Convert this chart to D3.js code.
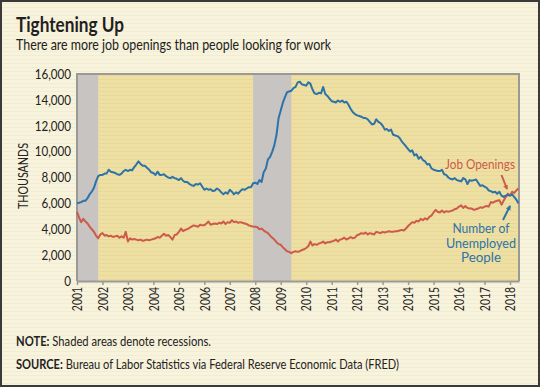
<!DOCTYPE html>
<html>
<head>
<meta charset="utf-8">
<script src="https://cdn.jsdelivr.net/npm/d3@7"></script>
<style>
  body { margin: 0; background: #fff; }
  svg { display: block; font-family: Lato, "Open Sans", sans-serif; }
</style>
</head>
<body>
<svg id="chart" width="540" height="387"></svg>
<script>
// Monthly values, thousands, Jan 2001 - May 2018
const firstMonth = new Date(2001, 0, 1);

const unemployed = [
  6.0, 6.05, 6.1, 6.2, 6.2, 6.4, 6.7, 6.9, 7.2, 7.7, 8.1, 8.2,
  8.2, 8.3, 8.3, 8.6, 8.45, 8.4, 8.35, 8.25, 8.2, 8.3, 8.5, 8.6,
  8.5, 8.6, 8.55, 8.8, 9.0, 9.25, 9.05, 8.9, 8.9, 8.75, 8.6, 8.4,
  8.35, 8.2, 8.45, 8.2, 8.2, 8.25, 8.1, 8.0, 7.95, 8.05, 7.95, 7.9,
  7.8, 7.95, 7.75, 7.65, 7.65, 7.5, 7.4, 7.35, 7.5, 7.45, 7.55, 7.3,
  7.05, 7.15, 7.05, 7.1, 6.95, 7.0, 7.15, 7.05, 6.85, 6.7, 6.85, 6.75,
  7.05, 6.9, 6.7, 6.85, 6.75, 6.95, 7.1, 7.05, 7.15, 7.25, 7.25, 7.55,
  7.6, 7.5, 7.8, 7.65, 8.4, 8.7, 9.4, 9.6, 10.0, 10.5, 11.3, 12.6,
  13.2, 13.8, 14.2, 14.6, 14.65, 14.7, 14.9, 15.0, 15.35, 15.4, 15.2, 15.15,
  15.1, 15.35, 15.25, 14.8, 14.5, 14.45, 14.55, 14.5, 15.0, 14.45, 14.3, 14.1,
  13.9, 13.85, 13.8, 13.95, 13.85, 13.95, 13.8, 13.85, 13.6, 13.3, 13.05, 12.9,
  12.8, 12.75, 12.7, 12.6, 12.6, 12.5, 12.3, 12.1, 12.15, 12.5, 12.3, 12.2,
  12.0, 11.7, 11.75, 11.6, 11.7, 11.3, 11.25, 11.2, 11.05, 10.8, 10.6, 10.4,
  10.2, 10.0, 10.1, 9.7, 9.8, 9.45, 9.6, 9.35, 9.25, 9.0, 9.05, 8.7,
  8.6, 8.55, 8.5, 8.5, 8.6, 8.25, 8.2, 8.0, 7.9, 7.85, 7.95, 7.8,
  7.75, 7.7, 7.95, 7.85, 7.5, 7.8, 7.75, 7.8, 7.85, 7.6, 7.35, 7.4,
  7.3, 7.2, 7.0, 6.95, 6.85, 6.9, 6.75, 6.9, 6.6, 6.5, 6.6, 6.65,
  6.6, 6.7, 6.5, 6.3, 6.0
];

const openings = [
  5.35, 4.9, 4.55, 4.8, 4.6, 4.45, 4.2, 4.0, 3.8, 3.5, 3.3, 3.6,
  3.7, 3.5, 3.55, 3.45, 3.5, 3.4, 3.45, 3.5, 3.35, 3.45, 3.35, 3.8,
  3.05, 3.3, 3.2, 3.25, 3.2, 3.15, 3.2, 3.1, 3.15, 3.2, 3.15, 3.2,
  3.25, 3.3, 3.4, 3.35, 3.5, 3.65, 3.5, 3.55, 3.4, 3.2, 3.55, 3.6,
  3.8, 4.05, 3.85, 3.95, 4.0, 4.1, 4.2, 4.3, 4.25, 4.2, 4.35, 4.3,
  4.3, 4.45, 4.6, 4.35, 4.4, 4.45, 4.4, 4.5, 4.45, 4.6, 4.4, 4.55,
  4.5, 4.7, 4.55, 4.6, 4.5, 4.55, 4.5, 4.45, 4.4, 4.3, 4.25, 4.2,
  4.2, 4.15, 4.0, 4.05, 3.9, 3.8, 3.7, 3.5, 3.35, 3.2, 3.0, 2.85,
  2.8, 2.6, 2.45, 2.3, 2.25, 2.15, 2.25, 2.3, 2.25, 2.3, 2.4, 2.45,
  2.55, 2.7, 3.05, 2.75, 2.85, 2.8, 2.9, 2.95, 3.05, 2.9, 3.0, 3.0,
  3.05, 3.1, 3.2, 3.05, 3.2, 3.25, 3.35, 3.2, 3.3, 3.4, 3.3, 3.35,
  3.55, 3.6, 3.7, 3.65, 3.75, 3.6, 3.7, 3.65, 3.6, 3.8, 3.75, 3.7,
  3.8, 3.75, 3.8, 3.85, 3.8, 3.8, 3.85, 3.85, 3.9, 3.95, 3.9, 4.05,
  4.25, 4.4, 4.55, 4.5, 4.65, 4.6, 4.8, 4.7, 4.85, 4.75, 4.95, 5.05,
  5.3, 5.5, 5.35, 5.3, 5.45, 5.3, 5.4, 5.35, 5.4, 5.45, 5.55, 5.6,
  5.75, 5.85, 5.65, 5.8, 5.65, 5.6, 5.6, 5.5, 5.55, 5.6, 5.7, 5.65,
  5.75, 5.8, 5.75, 6.1, 6.05, 6.15, 6.2, 6.25, 5.9, 6.2, 6.5, 6.75,
  6.6, 6.9, 6.8, 7.0, 7.15
];

const recessions = [["2001-01", "2001-11"], ["2007-12", "2009-06"]];
const yTicks = [0, 2000, 4000, 6000, 8000, 10000, 12000, 14000, 16000];
const tickYears = [2001, 2002, 2003, 2004, 2005, 2006, 2007, 2008, 2009,
  2010, 2011, 2012, 2013, 2014, 2015, 2016, 2017, 2018];

const W = 540, H = 387;
const plot = { left: 77, right: 519, top: 74, bottom: 281 };
const blue = "#2d73a8", red = "#cd5a4b";

const svg = d3.select("#chart");
const parse = d3.timeParse("%Y-%m");
const monthDate = (i) => d3.timeMonth.offset(firstMonth, i);

const x = d3.scaleTime()
  .domain([firstMonth, new Date(2018, 4, 10)])
  .range([plot.left, plot.right]);
const y = d3.scaleLinear().domain([0, 16000]).range([plot.bottom, plot.top]);

// squeeze text horizontally to a width (the original face is condensed)
function fitTo(sel, w) {
  sel.attr("textLength", w).attr("lengthAdjust", "spacingAndGlyphs");
}
function squeeze(sel, k) {
  sel.each(function () {
    const L = this.getComputedTextLength();
    d3.select(this).attr("textLength", L * k).attr("lengthAdjust", "spacingAndGlyphs");
  });
}

// textures
const defs = svg.append("defs");
function stripes(id, bg, line) {
  const p = defs.append("pattern").attr("id", id)
    .attr("patternUnits", "userSpaceOnUse").attr("width", 6).attr("height", 4);
  p.append("rect").attr("width", 6).attr("height", 4).attr("fill", bg);
  p.append("rect").attr("y", 3).attr("width", 6).attr("height", 1).attr("fill", line);
}
stripes("paper", "#f8f3dc", "#f2ecd2");
stripes("khaki", "#eee0a2", "#e8d99a");

["red", "blue"].forEach((k) => {
  defs.append("marker").attr("id", "arrow-" + k)
    .attr("viewBox", "0 0 10 10").attr("refX", 8).attr("refY", 5)
    .attr("markerWidth", 5).attr("markerHeight", 5)
    .attr("markerUnits", "userSpaceOnUse")
    .attr("orient", "auto")
    .append("path").attr("d", "M0,0L10,5L0,10z")
    .attr("fill", k === "red" ? red : blue);
});

// background + border
svg.append("rect").attr("width", W).attr("height", H).attr("fill", "url(#paper)");
svg.append("rect").attr("x", 1).attr("y", 1).attr("width", W - 2).attr("height", H - 2)
  .attr("fill", "none").attr("stroke", "#3a3a3a").attr("stroke-width", 2);

// titles
svg.append("text").attr("x", 16).attr("y", 32)
  .attr("font-size", 21).attr("font-weight", 700).attr("fill", "#1f1f1f")
  .text("Tightening Up").call(fitTo, 108);
svg.append("text").attr("x", 16).attr("y", 49.5)
  .attr("font-size", 15).attr("fill", "#222")
  .text("There are more job openings than people looking for work").call(fitTo, 315);

// plot background and recessions
svg.append("rect").attr("x", plot.left).attr("y", plot.top)
  .attr("width", plot.right - plot.left).attr("height", plot.bottom - plot.top)
  .attr("fill", "url(#khaki)");

svg.append("g").selectAll("rect").data(recessions).join("rect")
  .attr("x", (d) => x(parse(d[0])))
  .attr("y", plot.top)
  .attr("width", (d) => x(parse(d[1])) - x(parse(d[0])))
  .attr("height", plot.bottom - plot.top)
  .attr("fill", "#c7c4c1");

// frame
svg.append("path")
  .attr("d", `M${plot.left},${plot.bottom}V${plot.top}H${plot.right}V${plot.bottom}`)
  .attr("fill", "none").attr("stroke", "#9b9995").attr("stroke-width", 2);

// x axis
const xAxis = svg.append("g")
  .attr("transform", `translate(0,${plot.bottom})`)
  .call(d3.axisBottom(x)
    .tickValues(tickYears.map((yr) => new Date(yr, 0, 1)))
    .tickFormat(d3.timeFormat("%Y"))
    .tickSize(4).tickSizeOuter(0));
xAxis.select(".domain").attr("stroke", "#9b9995").attr("stroke-width", 2);
xAxis.selectAll(".tick line").attr("stroke", "#9b9995").attr("stroke-width", 1.5);
xAxis.selectAll(".tick text")
  .attr("font-family", "Lato, sans-serif").attr("font-size", 13).attr("fill", "#222")
  .attr("transform", "translate(0,6) rotate(-90)")
  .attr("text-anchor", "end").attr("x", 0).attr("y", 0).attr("dy", "0.36em")
  .call(squeeze, 0.8);

// y axis labels
const yAxis = svg.append("g")
  .attr("transform", `translate(${plot.left},0)`)
  .call(d3.axisLeft(y).tickValues(yTicks).tickFormat(d3.format(",")).tickSize(0).tickPadding(6));
yAxis.select(".domain").remove();
yAxis.selectAll(".tick text")
  .attr("font-family", "Lato, sans-serif").attr("font-size", 13.5).attr("fill", "#222")
  .call(squeeze, 0.86);

svg.append("text")
  .attr("transform", `translate(28,176) rotate(-90)`)
  .attr("text-anchor", "middle").attr("font-size", 14).attr("fill", "#222")
  .text("THOUSANDS").call(fitTo, 66);

// lines
const line = d3.line()
  .x((d, i) => x(monthDate(i)))
  .y((d) => y(d * 1000));

svg.append("path").datum(openings)
  .attr("d", line).attr("fill", "none")
  .attr("stroke", red).attr("stroke-width", 2).attr("stroke-linejoin", "round");
svg.append("path").datum(unemployed)
  .attr("d", line).attr("fill", "none")
  .attr("stroke", blue).attr("stroke-width", 2).attr("stroke-linejoin", "round");

// annotations
svg.append("text").attr("x", 480).attr("y", 169)
  .attr("text-anchor", "middle").attr("font-size", 14).attr("fill", red)
  .text("Job Openings").call(fitTo, 70);
svg.append("line")
  .attr("x1", 501.5).attr("y1", 175).attr("x2", 507).attr("y2", 189)
  .attr("stroke", red).attr("stroke-width", 2).attr("marker-end", "url(#arrow-red)");

const unempLabel = ["Number of", "Unemployed", "People"];
const widths = [57, 70, 40];
svg.append("g").selectAll("text").data(unempLabel).join("text")
  .attr("x", 481).attr("y", (d, i) => 233 + i * 14.5)
  .attr("text-anchor", "middle").attr("font-size", 14).attr("fill", blue)
  .text((d) => d)
  .each(function (d, i) { d3.select(this).call(fitTo, widths[i]); });
svg.append("line")
  .attr("x1", 503).attr("y1", 220).attr("x2", 510).attr("y2", 206)
  .attr("stroke", blue).attr("stroke-width", 2).attr("marker-end", "url(#arrow-blue)");

// notes
const note = svg.append("text").attr("x", 16).attr("y", 346)
  .attr("font-size", 13).attr("fill", "#222");
note.append("tspan").attr("font-weight", 700).text("NOTE:");
note.append("tspan").text(" Shaded areas denote recessions.");
note.call(fitTo, 195);

const source = svg.append("text").attr("x", 16).attr("y", 369)
  .attr("font-size", 13).attr("fill", "#222");
source.append("tspan").attr("font-weight", 700).text("SOURCE:");
source.append("tspan").text(" Bureau of Labor Statistics via Federal Reserve Economic Data (FRED)");
source.call(fitTo, 383);
</script>
</body>
</html>
